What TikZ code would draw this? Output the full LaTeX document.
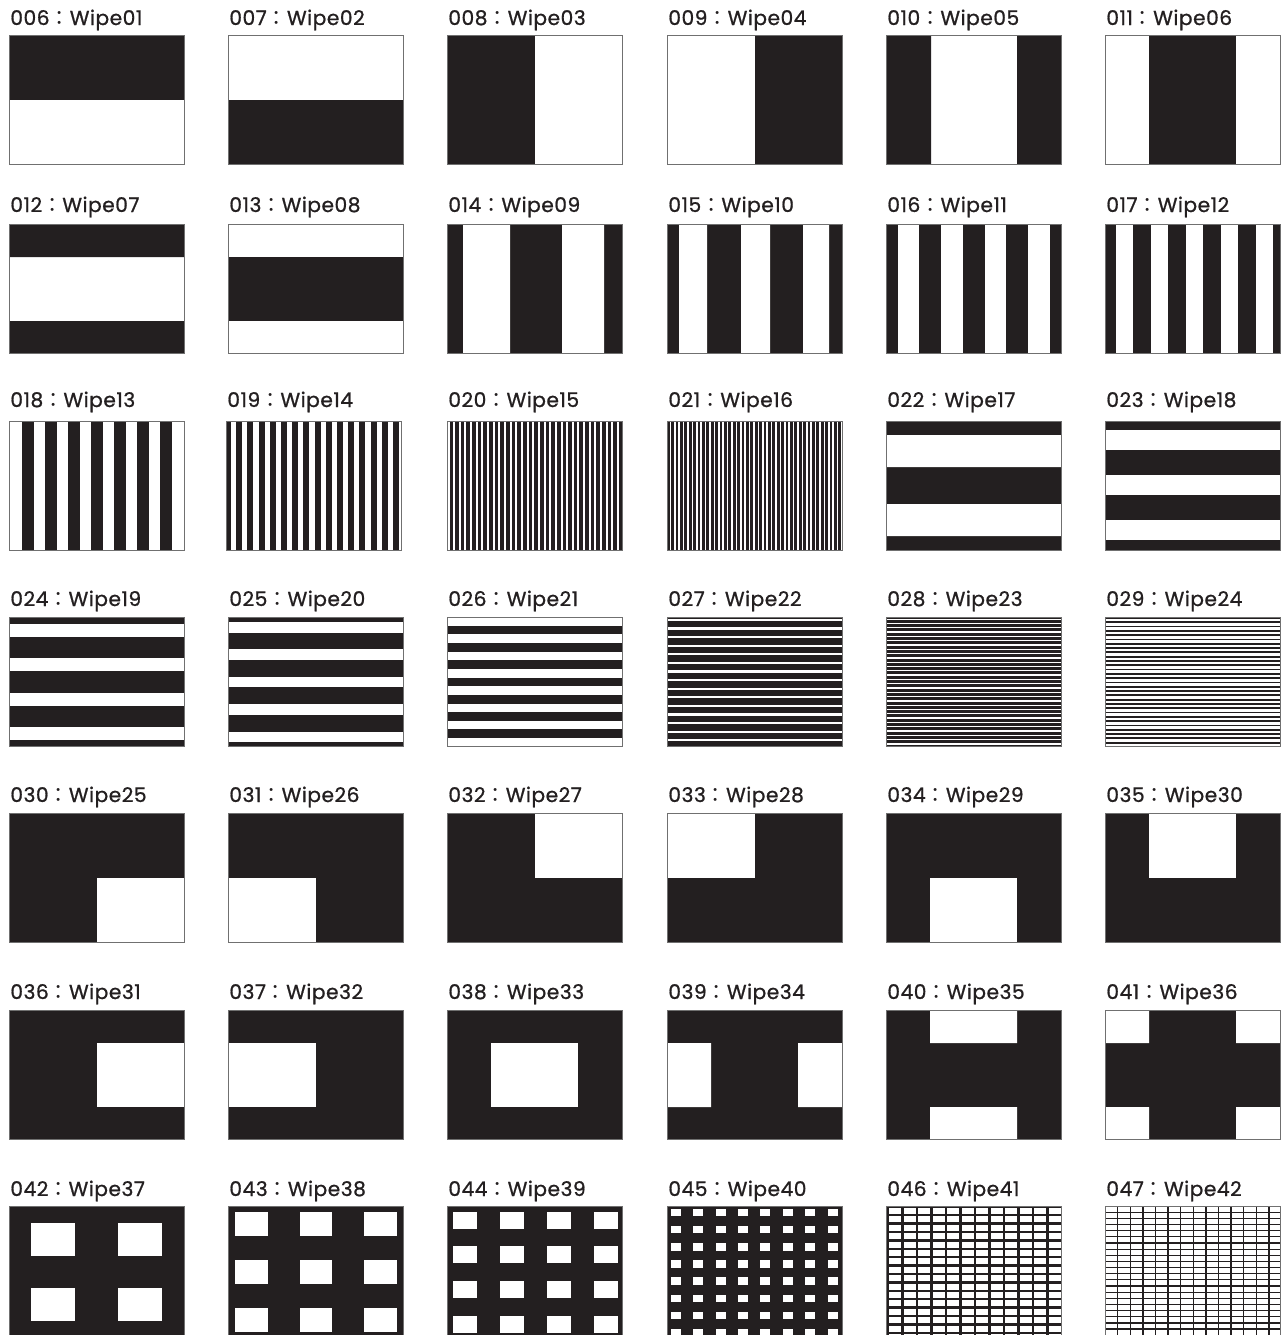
\documentclass[tikz,border=0pt]{standalone}
\usepackage{fontspec}
\newfontfamily\capfont{Poppins}[FakeBold=0.9, LetterSpace=2.5]
\newfontfamily\cjkfont{Noto Sans CJK JP}
\usetikzlibrary{positioning}
\definecolor{wipeInk}{HTML}{231F20}
\definecolor{wipeEdge}{HTML}{707070}

\newcommand\wcolon{{\cjkfont ：}}
\newcommand\colbands[5]{\foreach \k in {1,...,#5}{\fill[#1] ({#2+(\k-1)*#3},0) rectangle ++(#4,129);}}
\newcommand\rowbands[5]{\foreach \k in {1,...,#5}{\fill[#1] (0,{#2+(\k-1)*#3}) rectangle ++(175,#4);}}
\newcommand\holes[8]{\foreach \i in {1,...,#4}{\foreach \j in {1,...,#8}{%
  \fill[paper] ({#1+(\i-1)*#2},{#5+(\j-1)*#6}) rectangle ++(#3,#7);}}}
\newcommand\wipe[6]{%
  \begin{scope}[shift={(#1,#2)}]
    \begin{scope}
      \clip (0,0) rectangle (175,129);
      #6
    \end{scope}
    \draw[frame] (0,0) rectangle (175,129);
  \end{scope}
  \node[wlabel] (#4) at ({#1+1},#3) {#5};}

\begin{document}
\begin{tikzpicture}[x=0.2mm, y=-0.2mm,
    wlabel/.style={anchor=base west, inner sep=0pt, text=wipeInk,
      font=\capfont\fontsize{11.5}{13}\selectfont},
    frame/.style={draw=wipeEdge, line width=0.5pt},
    ink/.style={fill=wipeInk},
    paper/.style={fill=white}
  ]
  \useasboundingbox (0,0) rectangle (1287,1335);
  \fill[white] (0,0) rectangle (1287,1335);

  \wipe{9}{35}{25}{w01}{006\wcolon Wipe01}{\fill[ink] (0,0) rectangle (175,64.5);}
  \wipe{228}{35}{25}{w02}{007\wcolon Wipe02}{\fill[ink] (0,64.5) rectangle (175,129);}
  \wipe{447}{35}{25}{w03}{008\wcolon Wipe03}{\fill[ink] (0,0) rectangle (87.5,129);}
  \wipe{667}{35}{25}{w04}{009\wcolon Wipe04}{\fill[ink] (87.5,0) rectangle (175,129);}
  \wipe{886}{35}{25}{w05}{010\wcolon Wipe05}{\fill[ink] (0,0) rectangle (45,129) (131,0) rectangle (175,129);}
  \wipe{1105}{35}{25}{w06}{011\wcolon Wipe06}{\fill[ink] (44,0) rectangle (131,129);}

  \wipe{9}{224}{212}{w07}{012\wcolon Wipe07}{\fill[ink] (0,0) rectangle (175,33) (0,97) rectangle (175,129);}
  \wipe{228}{224}{212}{w08}{013\wcolon Wipe08}{\fill[ink] (0,33) rectangle (175,97);}
  \wipe{447}{224}{212}{w09}{014\wcolon Wipe09}{\fill[ink] (0,0) rectangle (175,129);
    \fill[paper] (16,0) rectangle (63,129) (115,0) rectangle (157,129);}
  \wipe{667}{224}{212}{w10}{015\wcolon Wipe10}{\fill[ink] (0,0) rectangle (175,129);
    \fill[paper] (12,0) rectangle (40,129) (74,0) rectangle (103,129) (136,0) rectangle (162,129);}
  \wipe{886}{224}{212}{w11}{016\wcolon Wipe11}{\fill[ink] (0,0) rectangle (175,129); \colbands{paper}{11.5}{43.5}{21.5}{4}}
  \wipe{1105}{224}{212}{w12}{017\wcolon Wipe12}{\fill[ink] (0,0) rectangle (175,129); \colbands{paper}{11}{35}{17}{5}}

  \wipe{9}{421}{407}{w13}{018\wcolon Wipe13}{\colbands{ink}{12.7}{23.1}{11.8}{7}}
  \wipe{226}{421}{407}{w14}{019\wcolon Wipe14}{\fill[ink] (0,0) rectangle (175,129); \colbands{paper}{5}{11.2}{5.2}{16}}
  \wipe{447}{421}{407}{w15}{020\wcolon Wipe15}{\fill[ink] (0,0) rectangle (175,129); \colbands{paper}{0.5}{5.65}{2}{31}}
  \wipe{667}{421}{407}{w16}{021\wcolon Wipe16}{\fill[ink] (0,0) rectangle (175,129); \colbands{paper}{2.5}{4.4}{1.7}{40}}
  \wipe{886}{421}{407}{w17}{022\wcolon Wipe17}{\fill[ink] (0,0) rectangle (175,129);
    \fill[paper] (0,14) rectangle (175,46) (0,83) rectangle (175,115);}
  \wipe{1105}{421}{407}{w18}{023\wcolon Wipe18}{\fill[ink] (0,0) rectangle (175,129); \rowbands{paper}{9}{45}{19.5}{3}}

  \wipe{9}{617}{606}{w19}{024\wcolon Wipe19}{\fill[ink] (0,0) rectangle (175,129); \rowbands{paper}{7}{34.4}{13}{4}}
  \wipe{228}{617}{606}{w20}{025\wcolon Wipe20}{\fill[ink] (0,0) rectangle (175,129); \rowbands{paper}{5}{27.4}{10.5}{5}}
  \wipe{447}{617}{606}{w21}{026\wcolon Wipe21}{\fill[ink] (0,0) rectangle (175,129); \rowbands{paper}{0}{17.3}{8.6}{8}}
  \wipe{667}{617}{606}{w22}{027\wcolon Wipe22}{\fill[ink] (0,0) rectangle (175,129); \rowbands{paper}{1.7}{8.6}{2.3}{15}}
  \wipe{886}{617}{606}{w23}{028\wcolon Wipe23}{\fill[ink] (0,0) rectangle (175,129); \rowbands{paper}{1.5}{4.3}{1.3}{30}}
  \wipe{1105}{617}{606}{w24}{029\wcolon Wipe24}{\rowbands{ink}{0}{4.3}{1.8}{31}}

  \wipe{9}{813}{802}{w25}{030\wcolon Wipe25}{\fill[ink] (0,0) rectangle (175,129); \fill[paper] (87.5,64.5) rectangle (175,129);}
  \wipe{228}{813}{802}{w26}{031\wcolon Wipe26}{\fill[ink] (0,0) rectangle (175,129); \fill[paper] (0,64.5) rectangle (87.5,129);}
  \wipe{447}{813}{802}{w27}{032\wcolon Wipe27}{\fill[ink] (0,0) rectangle (175,129); \fill[paper] (87.5,0) rectangle (175,64.5);}
  \wipe{667}{813}{802}{w28}{033\wcolon Wipe28}{\fill[ink] (0,0) rectangle (175,129); \fill[paper] (0,0) rectangle (87.5,64.5);}
  \wipe{886}{813}{802}{w29}{034\wcolon Wipe29}{\fill[ink] (0,0) rectangle (175,129); \fill[paper] (44,64.5) rectangle (131,129);}
  \wipe{1105}{813}{802}{w30}{035\wcolon Wipe30}{\fill[ink] (0,0) rectangle (175,129); \fill[paper] (44,0) rectangle (131,64.5);}

  \wipe{9}{1010}{999}{w31}{036\wcolon Wipe31}{\fill[ink] (0,0) rectangle (175,129); \fill[paper] (87.5,33) rectangle (175,97);}
  \wipe{228}{1010}{999}{w32}{037\wcolon Wipe32}{\fill[ink] (0,0) rectangle (175,129); \fill[paper] (0,33) rectangle (87.5,97);}
  \wipe{447}{1010}{999}{w33}{038\wcolon Wipe33}{\fill[ink] (0,0) rectangle (175,129); \fill[paper] (44,33) rectangle (131,97);}
  \wipe{667}{1010}{999}{w34}{039\wcolon Wipe34}{\fill[ink] (0,0) rectangle (175,129);
    \fill[paper] (0,33) rectangle (44,97) (131,33) rectangle (175,97);}
  \wipe{886}{1010}{999}{w35}{040\wcolon Wipe35}{\fill[ink] (0,0) rectangle (175,129);
    \fill[paper] (44,0) rectangle (131,33) (44,97) rectangle (131,129);}
  \wipe{1105}{1010}{999}{w36}{041\wcolon Wipe36}{\fill[ink] (0,0) rectangle (175,129);
    \fill[paper] (0,0) rectangle (44,33) (131,0) rectangle (175,33) (0,97) rectangle (44,129) (131,97) rectangle (175,129);}

  \wipe{9}{1206}{1196}{w37}{042\wcolon Wipe37}{\fill[ink] (0,0) rectangle (175,129); \holes{22}{87}{44}{2}{16.5}{65}{33}{2}}
  \wipe{228}{1206}{1196}{w38}{043\wcolon Wipe38}{\fill[ink] (0,0) rectangle (175,129); \holes{7}{64.5}{32.7}{3}{5.7}{48}{24}{3}}
  \wipe{447}{1206}{1196}{w39}{044\wcolon Wipe39}{\fill[ink] (0,0) rectangle (175,129); \holes{5.7}{47}{24}{4}{5.7}{34.7}{17}{4}}
  \wipe{667}{1206}{1196}{w40}{045\wcolon Wipe40}{\fill[ink] (0,0) rectangle (175,129); \holes{3.7}{22.4}{10}{8}{3}{17.1}{7.3}{8}}
  \wipe{886}{1206}{1196}{w41}{046\wcolon Wipe41}{\fill[ink] (0,0) rectangle (175,129); \holes{3.3}{14.5}{12}{12}{2}{8.4}{6}{16}}
  \wipe{1105}{1206}{1196}{w42}{047\wcolon Wipe42}{\colbands{ink}{11.9}{12.6}{1.4}{13} \rowbands{ink}{5.6}{6.15}{1.2}{20}}
\end{tikzpicture}
\end{document}
